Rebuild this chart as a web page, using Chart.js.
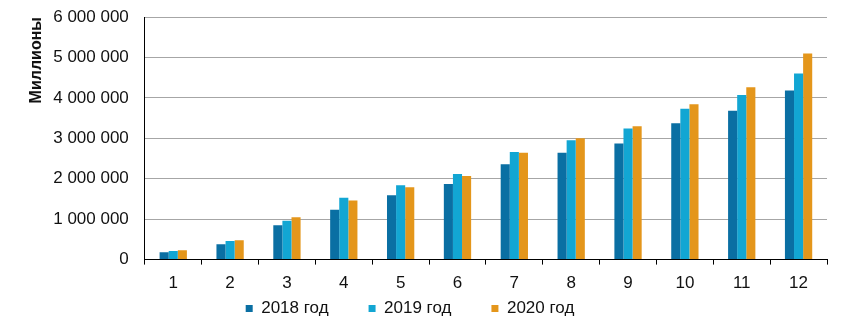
<!DOCTYPE html>
<html>
<head>
<meta charset="utf-8">
<script src="https://cdn.jsdelivr.net/npm/chart.js@4"></script>
<style>
    html, body { margin: 0; padding: 0; background: #fff; }
    #wrap { width: 847px; height: 336px; }
</style>
</head>
<body>
<div id="wrap"><canvas id="grafico"></canvas></div>
<script>
const categorias = ['1', '2', '3', '4', '5', '6', '7', '8', '9', '10', '11', '12']
const anos = ['2018 год', '2019 год', '2020 год']
const valores2018 = [180000, 380000, 850000, 1230000, 1590000, 1870000, 2360000, 2640000, 2870000, 3370000, 3680000, 4180000]
const valores2019 = [210000, 460000, 960000, 1530000, 1840000, 2120000, 2660000, 2950000, 3240000, 3730000, 4070000, 4600000]
const valores2020 = [230000, 480000, 1050000, 1460000, 1790000, 2070000, 2640000, 3000000, 3300000, 3840000, 4260000, 5100000]
const cores = ['#0a6fa3', '#12a6d3', '#e4961b']

const fonte = 'Arial, "Liberation Sans", sans-serif'

function formatarNumero(v) {
    return String(v).replace(/\B(?=(\d{3})+(?!\d))/g, ' ')
}

// espaço extra entre os itens da legenda sem aumentar o padding vertical
function legendaComEspaco(chart) {
    const itens = Chart.defaults.plugins.legend.labels.generateLabels(chart)
    itens.forEach(item => { item.text = item.text + '\u2002\u2002\u2002\u2002' })
    return itens
}

const ctx = document.getElementById('grafico').getContext('2d')
new Chart(ctx, {
    type: 'bar',
    data: {
        labels: categorias,
        datasets: [valores2018, valores2019, valores2020].map((serie, i) => ({
            label: anos[i],
            data: serie,
            backgroundColor: cores[i],
            borderWidth: 0,
            categoryPercentage: 0.48,
            barPercentage: 1
        }))
    },
    options: {
        responsive: true,
        maintainAspectRatio: false,
        animation: false,
        layout: { padding: { top: 17, right: 20, left: 27, bottom: 9 } },
        scales: {
            x: {
                grid: { drawOnChartArea: false, drawTicks: true, tickLength: 5, color: '#000' },
                border: { color: '#000', width: 1 },
                ticks: { color: '#111', font: { family: fonte, size: 17 }, padding: 9 },
                afterFit: escala => { escala.height -= 9 }
            },
            y: {
                min: 0,
                max: 6000000,
                grid: { color: '#a6a6a6', drawTicks: false },
                border: { color: '#000', width: 1 },
                ticks: {
                    stepSize: 1000000,
                    color: '#111',
                    font: { family: fonte, size: 17 },
                    padding: 16,
                    callback: v => formatarNumero(v)
                },
                title: {
                    display: true,
                    text: 'Миллионы',
                    align: 'end',
                    color: '#111',
                    font: { family: fonte, size: 16, weight: 'bold' },
                    padding: { top: 0, bottom: 0 }
                },
                afterFit: escala => {
                    escala.width -= 9
                    escala.paddingTop = 0
                }
            }
        },
        plugins: {
            legend: {
                position: 'bottom',
                labels: {
                    boxWidth: 7,
                    boxHeight: 7,
                    color: '#111',
                    font: { family: fonte, size: 17 },
                    padding: 6,
                    generateLabels: legendaComEspaco
                }
            },
            tooltip: { enabled: false }
        }
    }
})
</script>
</body>
</html>
